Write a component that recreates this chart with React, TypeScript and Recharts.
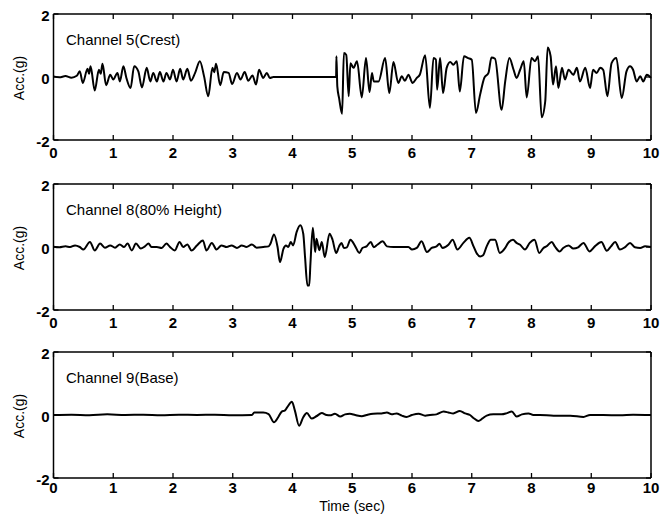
import { LineChart, Line, XAxis, YAxis } from "recharts";

const X_TICKS = [0, 1, 2, 3, 4, 5, 6, 7, 8, 9, 10];
const Y_TICKS = [-2, 0, 2];
const TITLES = ["Channel 5(Crest)", "Channel 8(80% Height)", "Channel 9(Base)"];
const Y_LABEL = "Acc.(g)";
const X_LABEL = "Time (sec)";

// [time (sec), acceleration (g)]
const CH5: [number, number][] = [
  [0, 0.02], [0.1, -0.01], [0.2, 0.03], [0.3, -0.02], [0.39, 0.04], [0.44, 0.18],
  [0.49, -0.19], [0.57, 0.26], [0.595, 0.1], [0.62, 0.34], [0.69, -0.43], [0.76, 0.23],
  [0.79, 0.1], [0.82, 0.42], [0.88, -0.26], [0.95, 0.07], [1.0, -0.08], [1.07, 0.13],
  [1.11, -0.14], [1.17, 0.34], [1.22, -0.03], [1.29, -0.35], [1.35, 0.34], [1.42, 0.18],
  [1.48, -0.33], [1.56, 0.29], [1.62, -0.14], [1.67, 0.13], [1.73, -0.14], [1.78, 0.16],
  [1.84, -0.14], [1.89, 0.13], [1.95, -0.08], [2.0, 0.23], [2.06, -0.14], [2.12, 0.26],
  [2.17, -0.08], [2.24, 0.26], [2.3, -0.12], [2.37, 0.13], [2.45, 0.5], [2.52, 0.02],
  [2.59, -0.61], [2.66, 0.29], [2.69, 0.15], [2.72, 0.42], [2.79, -0.26], [2.85, 0.16],
  [2.93, 0.13], [2.99, -0.22], [3.07, 0.13], [3.13, -0.08], [3.2, 0.16], [3.26, -0.12],
  [3.33, 0.05], [3.39, -0.24], [3.44, 0.23], [3.51, -0.03], [3.57, 0.13], [3.62, -0.03],
  [3.68, 0], [4.73, 0], [4.735, 0.66], [4.75, -0.3], [4.78, -0.67], [4.83, -1.17],
  [4.86, 0.76], [4.9, 0.7], [4.94, -0.61], [4.97, 0.44], [5.02, 0.29], [5.08, 0.5],
  [5.16, -0.65], [5.23, 0.6], [5.29, -0.48], [5.33, 0.13], [5.36, -0.14], [5.44, -0.14],
  [5.55, 0.6], [5.62, -0.51], [5.69, 0.48], [5.77, -0.19], [5.83, 0.02], [5.88, -0.12],
  [5.94, 0.07], [6.01, -0.19], [6.08, -0.03], [6.13, 0.07], [6.22, 0.69], [6.3, -0.98],
  [6.36, 0.6], [6.4, 0.55], [6.42, -0.4], [6.47, 0.6], [6.52, -0.51], [6.58, 0.29],
  [6.64, 0.48], [6.69, 0.39], [6.75, 0.5], [6.8, -0.46], [6.87, 0.66], [6.94, 0.6],
  [7.0, 0.55], [7.07, -1.14], [7.14, -0.56], [7.21, -0.03], [7.28, 0.13], [7.33, 0.62],
  [7.39, 0.58], [7.5, -1.04], [7.56, -0.14], [7.63, 0.6], [7.7, 0.23], [7.75, -0.03],
  [7.81, 0.23], [7.87, 0.5], [7.92, -0.65], [8.0, 0.6], [8.06, 0.5], [8.11, 0.66],
  [8.17, -1.28], [8.23, -0.77], [8.27, 0.94], [8.32, 0.66], [8.36, -0.24], [8.41, 0.34],
  [8.45, -0.35], [8.51, 0.29], [8.56, -0.08], [8.62, 0.23], [8.7, 0.07], [8.76, 0.29],
  [8.81, -0.14], [8.9, 0.29], [8.98, -0.35], [9.03, 0.23], [9.09, 0.13], [9.15, 0.29],
  [9.2, 0.23], [9.27, -0.61], [9.34, 0.44], [9.42, 0.6], [9.51, -0.67], [9.59, 0.18],
  [9.65, 0.34], [9.7, 0.23], [9.76, -0.14], [9.82, 0.02], [9.87, -0.14], [9.93, 0.07],
  [10, -0.03],
];

const CH8: [number, number][] = [
  [0, 0.01], [0.1, -0.01], [0.2, 0.02], [0.28, 0], [0.36, 0.05], [0.44, 0], [0.5, -0.08],
  [0.61, 0.16], [0.69, -0.11], [0.78, 0.11], [0.86, -0.02], [0.95, 0.05], [1.03, -0.02],
  [1.11, 0.08], [1.18, 0], [1.24, 0.11], [1.31, -0.11], [1.38, 0.11], [1.46, -0.05],
  [1.53, 0.02], [1.59, 0.11], [1.64, 0], [1.73, 0], [1.81, -0.03], [1.89, 0.11], [1.95, 0],
  [2.03, -0.11], [2.11, 0.16], [2.17, 0], [2.24, 0.08], [2.31, -0.11], [2.4, 0.05],
  [2.5, 0.21], [2.56, -0.11], [2.65, 0.13], [2.73, -0.08], [2.81, 0.05], [2.9, 0],
  [2.98, 0.05], [3.07, -0.03], [3.15, 0.05], [3.23, 0], [3.32, 0.08], [3.4, -0.02],
  [3.51, 0], [3.6, 0.02], [3.63, 0.1], [3.69, 0.4], [3.75, 0], [3.79, -0.48], [3.85, -0.05],
  [3.89, 0.05], [3.93, 0], [3.97, 0.16], [4.01, 0.05], [4.07, 0.48], [4.13, 0.69],
  [4.18, 0.42], [4.21, -0.32], [4.25, -1.22], [4.28, -1.22], [4.3, -0.53], [4.34, 0.61],
  [4.38, -0.16], [4.4, 0.26], [4.45, -0.1], [4.49, 0.16], [4.54, -0.32], [4.62, 0.42],
  [4.67, 0.23], [4.73, -0.19], [4.78, 0.02], [4.82, 0.13], [4.86, -0.03], [4.91, -0.01],
  [4.97, 0.23], [5.05, 0.02], [5.12, -0.19], [5.17, -0.03], [5.24, 0.02], [5.31, 0.16],
  [5.36, -0.01], [5.42, 0.07], [5.51, 0.18], [5.58, 0.02], [5.69, 0], [5.94, 0],
  [6.0, -0.08], [6.08, -0.03], [6.16, 0.18], [6.25, -0.16], [6.33, -0.03], [6.41, 0.02],
  [6.46, 0.1], [6.51, -0.03], [6.61, 0.07], [6.68, 0.23], [6.76, -0.08], [6.86, 0.13],
  [6.96, 0.29], [7.03, 0.02], [7.08, -0.19], [7.14, -0.3], [7.19, -0.26], [7.25, 0.02],
  [7.32, 0.23], [7.39, 0.23], [7.47, -0.19], [7.56, -0.03], [7.61, 0.13], [7.69, 0.23],
  [7.75, 0.13], [7.81, 0.07], [7.89, -0.08], [7.97, 0.13], [8.05, 0.23], [8.13, -0.19],
  [8.2, -0.03], [8.25, 0.02], [8.34, 0.16], [8.39, 0.02], [8.47, -0.14], [8.53, -0.03],
  [8.62, 0.05], [8.7, -0.05], [8.78, -0.01], [8.87, 0.13], [8.97, -0.14], [9.06, 0.02],
  [9.17, 0.16], [9.26, -0.12], [9.33, 0.02], [9.4, 0.16], [9.48, -0.08], [9.56, -0.01],
  [9.65, 0.13], [9.73, -0.01], [9.82, -0.03], [9.9, 0.02], [10, 0],
];

const CH9: [number, number][] = [
  [0, 0], [0.3, 0.01], [0.6, -0.01], [0.9, 0.02], [1.2, 0], [1.5, 0.01], [1.8, -0.01],
  [2.1, 0.01], [2.4, 0], [2.7, 0.01], [3.0, -0.01], [3.32, 0], [3.36, 0.08], [3.51, 0.08],
  [3.6, 0.03], [3.69, -0.23], [3.76, -0.07], [3.82, 0.11], [3.87, 0.14], [3.91, 0.24],
  [3.99, 0.42], [4.04, 0.14], [4.11, -0.34], [4.18, -0.07], [4.24, 0.06], [4.32, -0.11],
  [4.4, -0.04], [4.49, 0.06], [4.57, 0], [4.63, -0.01], [4.71, 0.04], [4.8, -0.05],
  [4.88, 0.02], [4.96, 0.04], [5.05, 0], [5.16, -0.04], [5.24, 0], [5.35, 0.04],
  [5.49, 0.05], [5.58, 0.08], [5.66, 0.02], [5.74, 0.05], [5.83, -0.02], [5.91, -0.06],
  [6.0, 0], [6.11, 0.04], [6.22, -0.02], [6.3, 0], [6.41, 0.02], [6.53, 0.11], [6.61, 0.08],
  [6.69, 0.05], [6.8, 0.13], [6.89, 0.05], [6.97, 0], [7.04, -0.11], [7.11, -0.19],
  [7.18, -0.11], [7.25, -0.02], [7.36, 0.02], [7.5, 0.02], [7.59, 0.06], [7.67, 0.11],
  [7.75, -0.05], [7.84, 0.02], [7.95, 0.05], [8.03, 0], [8.14, 0], [8.37, -0.02],
  [8.65, -0.02], [8.87, -0.06], [8.98, 0], [9.2, 0], [9.48, -0.01], [9.7, 0.01], [10, 0],
];

const CHANNELS = [CH5, CH8, CH9];
const PANEL_TOPS = [0, 170, 338];
const TICK_GAP = [18, 18, 15];

const FONT = '"Liberation Sans", Arial, Helvetica, sans-serif';
const AXIS = { stroke: "#000", strokeWidth: 1.5 };

function BottomTick({ x, y, payload, gap }: any) {
  return (
    <g>
      <line x1={x} y1={y} x2={x} y2={y - 5} stroke="#000" strokeWidth={1.3} />
      <text x={x} y={y + gap} textAnchor="middle" fontFamily={FONT} fontSize={15} fontWeight="bold" fill="#000">
        {payload.value}
      </text>
    </g>
  );
}

function TopTick({ x, y }: any) {
  return <line x1={x} y1={y} x2={x} y2={y + 5} stroke="#000" strokeWidth={1.3} />;
}

function LeftTick({ x, y, payload }: any) {
  return (
    <g>
      <line x1={x} y1={y} x2={x + 5} y2={y} stroke="#000" strokeWidth={1.3} />
      <text x={x - 4} y={y + 7} textAnchor="end" fontFamily={FONT} fontSize={15} fontWeight="bold" fill="#000">
        {payload.value}
      </text>
    </g>
  );
}

function RightTick({ x, y }: any) {
  return <line x1={x} y1={y} x2={x - 5} y2={y} stroke="#000" strokeWidth={1.3} />;
}

function Panel({ data, title, top, gap }: { data: [number, number][]; title: string; top: number; gap: number }) {
  const rows = data.map(([t, v]) => ({ t, v }));
  return (
    <div style={{ position: "absolute", left: 0, top, width: 664, height: 170 }}>
      <LineChart width={664} height={170} data={rows} margin={{ top: 13, right: 12, bottom: 0, left: 8.5 }}>
        <XAxis
          dataKey="t"
          type="number"
          domain={[0, 10]}
          ticks={X_TICKS}
          interval={0}
          height={30}
          tickSize={0}
          tickMargin={0}
          tickLine={false}
          axisLine={AXIS}
          tick={(p: any) => <BottomTick {...p} gap={gap} />}
        />
        <XAxis
          xAxisId="top"
          dataKey="t"
          orientation="top"
          type="number"
          domain={[0, 10]}
          ticks={X_TICKS}
          interval={0}
          height={1}
          tickSize={0}
          tickMargin={0}
          tickLine={false}
          axisLine={AXIS}
          tick={(p: any) => <TopTick {...p} />}
        />
        <YAxis
          type="number"
          domain={[-2, 2]}
          ticks={Y_TICKS}
          interval={0}
          width={45}
          tickSize={0}
          tickMargin={0}
          tickLine={false}
          axisLine={AXIS}
          tick={(p: any) => <LeftTick {...p} />}
        />
        <YAxis
          yAxisId="right"
          orientation="right"
          type="number"
          domain={[-2, 2]}
          ticks={Y_TICKS}
          interval={0}
          width={1}
          tickSize={0}
          tickMargin={0}
          tickLine={false}
          axisLine={AXIS}
          tick={(p: any) => <RightTick {...p} />}
        />
        {/* invisible copy so the box axes (top / right) get a scale */}
        <Line
          xAxisId="top"
          yAxisId="right"
          type="monotone"
          dataKey="v"
          stroke="none"
          dot={false}
          activeDot={false}
          legendType="none"
          isAnimationActive={false}
        />
        <Line
          type="monotone"
          dataKey="v"
          stroke="#000"
          strokeWidth={2}
          dot={false}
          isAnimationActive={false}
        />
      </LineChart>
      <div
        style={{
          position: "absolute",
          left: 66,
          top: 31,
          fontFamily: FONT,
          fontSize: 15,
          color: "#000",
          whiteSpace: "nowrap",
        }}
      >
        {title}
      </div>
      <div
        style={{
          position: "absolute",
          left: 19,
          top: 78,
          transform: "translate(-50%, -50%) rotate(-90deg)",
          fontFamily: FONT,
          fontSize: 14,
          color: "#000",
          whiteSpace: "nowrap",
        }}
      >
        {Y_LABEL}
      </div>
    </div>
  );
}

export default function App() {
  return (
    <div style={{ position: "absolute", left: 0, top: 0, width: 664, height: 520, background: "#fff" }}>
      {CHANNELS.map((data, i) => (
        <Panel key={i} data={data} title={TITLES[i]} top={PANEL_TOPS[i]} gap={TICK_GAP[i]} />
      ))}
      <div
        style={{
          position: "absolute",
          left: 352,
          top: 506,
          transform: "translate(-50%, -50%)",
          fontFamily: FONT,
          fontSize: 14,
          color: "#000",
          whiteSpace: "nowrap",
        }}
      >
        {X_LABEL}
      </div>
    </div>
  );
}
